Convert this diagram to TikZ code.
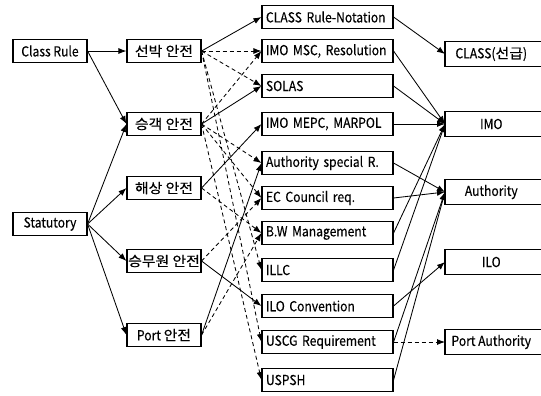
\documentclass[tikz,border=0pt]{standalone}
\usepackage{fontspec}
\setmainfont{Noto Sans CJK KR}[FakeStretch=0.88, FakeBold=0.3]
\newfontfamily\krfont{Noto Sans CJK KR}[FakeStretch=1.08, FakeBold=0.3]
\usetikzlibrary{arrows.meta}

\begin{document}
\begin{tikzpicture}[x=0.25mm, y=-0.25mm,
  every node/.style={font=\fontsize{9.8pt}{11pt}\selectfont, inner sep=0pt},
  box/.style={draw, line width=0.8pt, minimum width=18.5mm, minimum height=5.75mm},
  wbox/.style={draw, line width=0.8pt, minimum width=32.75mm, minimum height=5.75mm, text width=30.75mm, align=left},
  obox/.style={anchor=west, minimum width=23mm, minimum height=6mm},
  arr/.style={line width=0.6pt, -{Latex[length=2mm, width=1.5mm]}},
  darr/.style={arr, dash pattern=on 1mm off 0.75mm}]

\useasboundingbox (0,0) rectangle (541,395);

\node[box] (crule) at (50,51) {Class Rule};
\node[box] (stat) at (50,224) {Statutory};

\node[box] (ship) at (164,51) {\krfont 선박 안전};
\node[box] (pass) at (164,124) {\krfont 승객 안전};
\node[box] (sea) at (164,188) {\krfont 해상 안전};
\node[box] (crew) at (164,261) {\krfont 승무원 안전};
\node[box] (port) at (164,335) {Port {\krfont 안전}};

\node[wbox] (rnot) at (327.5,17) {CLASS Rule-Notation};
\node[wbox] (msc) at (327.5,51) {IMO MSC, Resolution};
\node[wbox] (solas) at (327.5,86) {SOLAS};
\node[wbox] (mepc) at (327.5,124) {IMO MEPC, MARPOL};
\node[wbox] (asr) at (327.5,163) {Authority special R.};
\node[wbox] (ecc) at (327.5,198) {EC Council req.};
\node[wbox] (bwm) at (327.5,233) {B.W Management};
\node[wbox] (illc) at (327.5,270) {ILLC};
\node[wbox] (iloc) at (327.5,306) {ILO Convention};
\node[wbox] (uscg) at (327.5,342) {USCG Requirement};
\node[wbox] (uspsh) at (327.5,380) {USPSH};

\node[obox] (cls) at (445,54) {CLASS({\krfont 선급})};
\node[obox] (imo) at (445,124) {IMO};
\node[obox] (auth) at (445,192) {Authority};
\node[obox] (ilo) at (445,262) {ILO};
\node[obox] (pauth) at (445,342) {Port Authority};
\foreach \n in {cls,imo,auth,ilo,pauth}
  \draw[line width=0.8pt] ([xshift=30mm]\n.north west) -- (\n.north west) -- (\n.south west) -- ([xshift=30mm]\n.south west);

\draw[arr] (crule.east) -- (ship.west);
\draw[arr] (crule.east) -- (pass.west);
\draw[arr] (stat.east) -- (pass.west);
\draw[arr] (stat.east) -- (sea.west);
\draw[arr] (stat.east) -- (crew.west);
\draw[arr] (stat.east) -- (port.west);

\draw[arr] (ship.east) -- (rnot.west);
\draw[darr] (ship.east) -- (msc.west);
\draw[darr] (ship.east) -- (solas.west);
\draw[darr] (ship.east) -- (illc.west);
\draw[darr] (ship.east) -- (uscg.west);
\draw[arr] (pass.east) -- (solas.west);
\draw[darr] (pass.east) -- (msc.west);
\draw[darr] (pass.east) -- (asr.west);
\draw[darr] (pass.east) -- (ecc.west);
\draw[darr] (pass.east) -- (uspsh.west);
\draw[arr] (sea.east) -- (mepc.west);
\draw[darr] (sea.east) -- (bwm.west);
\draw[arr] (crew.east) -- (iloc.west);
\draw[darr] (crew.east) -- (ecc.west);
\draw[arr] (port.east) -- (asr.west);
\draw[darr] (port.east) -- (bwm.west);

\draw[arr] (rnot.east) -- (cls.west);
\draw[arr] (msc.east) -- (imo.west);
\draw[arr] (solas.east) -- (imo.west);
\draw[arr] (mepc.east) -- (imo.west);
\draw[arr] (bwm.east) -- (imo.west);
\draw[arr] (illc.east) -- (imo.west);
\draw[arr] (asr.east) -- (auth.west);
\draw[arr] (ecc.east) -- (auth.west);
\draw[arr] (uscg.east) -- (auth.west);
\draw[arr] (uspsh.east) -- (auth.west);
\draw[arr] (iloc.east) -- (ilo.west);
\draw[darr] (uscg.east) -- (pauth.west);

\end{tikzpicture}
\end{document}
